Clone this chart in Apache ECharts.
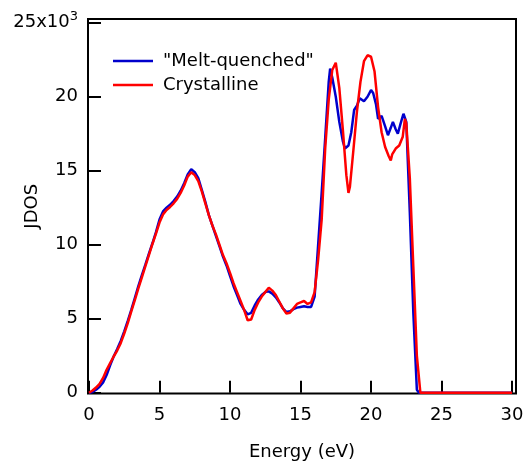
<!DOCTYPE html>
<html>
<head>
<meta charset="utf-8">
<script src="https://cdn.jsdelivr.net/npm/echarts@6/dist/echarts.min.js"></script>
<style>html,body{margin:0;padding:0;background:#fff;}#c{width:531px;height:464px;}</style>
</head>
<body>
<div id="c"></div>
<script>
const xTicks = [0, 5, 10, 15, 20, 25, 30];
const yTicks = [0, 5000, 10000, 15000, 20000, 25000];
const seriesNames = ['"Melt-quenched"', 'Crystalline'];

const energyMelt = [0,0.25,0.5,0.75,1,1.25,1.5,1.75,2,2.25,2.5,2.75,3,3.25,3.5,3.75,4,4.25,4.5,4.75,5,5.25,5.5,5.75,6,6.25,6.5,6.75,7,7.25,7.5,7.75,8,8.25,8.5,8.75,9,9.25,9.5,9.75,10,10.25,10.5,10.75,11,11.25,11.5,11.75,12,12.25,12.5,12.75,13,13.25,13.5,13.75,14,14.25,14.5,14.75,15,15.25,15.5,15.75,16,16.25,16.5,16.75,17,17.1,17.25,17.5,17.75,18,18.15,18.4,18.6,18.8,19,19.2,19.5,19.75,20,20.15,20.35,20.5,20.75,21,21.2,21.4,21.55,21.75,21.9,22.1,22.3,22.5,22.75,23,23.25,23.4,30];
const jdosMelt = [0,50,200,400,700,1200,1850,2450,2950,3500,4150,4850,5600,6400,7200,7950,8650,9400,10100,10850,11700,12250,12500,12700,12950,13250,13650,14150,14750,15100,14900,14500,13700,12900,12000,11300,10600,9900,9200,8600,7900,7200,6600,6000,5600,5300,5400,5900,6300,6600,6800,6850,6700,6450,6100,5700,5450,5500,5650,5750,5800,5850,5800,5800,6500,10000,13500,17200,21000,21900,21300,20000,18300,17000,16500,16700,17600,19100,19400,19900,19700,20000,20450,20250,19500,18500,18700,18000,17400,17900,18300,17800,17500,18200,18850,18300,12200,5400,200,0,0];

const energyCryst = [0,0.25,0.5,0.75,1,1.25,1.5,1.75,2,2.25,2.5,2.75,3,3.25,3.5,3.75,4,4.25,4.5,4.75,5,5.25,5.5,5.75,6,6.25,6.5,6.75,7,7.25,7.5,7.75,8,8.25,8.5,8.75,9,9.25,9.5,9.75,10,10.25,10.5,10.75,11,11.25,11.5,11.75,12,12.25,12.5,12.75,13,13.25,13.5,13.75,14,14.25,14.5,14.75,15,15.25,15.5,15.75,16,16.25,16.5,16.75,17,17.25,17.5,17.75,18,18.25,18.4,18.5,18.75,19,19.25,19.5,19.75,20,20.25,20.5,20.75,21,21.25,21.4,21.5,21.75,22,22.25,22.4,22.5,22.75,23,23.25,23.5,30];
const jdosCryst = [0,150,350,600,1000,1550,2000,2450,2850,3350,4000,4700,5500,6250,7050,7800,8550,9300,10050,10750,11500,12050,12350,12550,12800,13100,13500,14000,14600,14900,14700,14300,13600,12800,12000,11300,10700,10000,9300,8750,8100,7400,6800,6200,5600,4900,4950,5600,6100,6500,6800,7100,6900,6600,6150,5700,5350,5400,5700,6000,6100,6200,6000,6100,6800,9000,11700,16500,19800,21800,22300,20600,17800,14700,13500,13900,16400,19000,21000,22400,22800,22700,21700,19300,17600,16600,16000,15700,16100,16500,16700,17300,18500,18200,14500,8500,2500,0,0];

const FONT = 'DejaVu Sans';
const chart = echarts.init(document.getElementById('c'), null, {renderer: 'canvas'});
chart.setOption({
  animation: false,
  backgroundColor: '#fff',
  grid: {left: 88, right: 15, top: 19, bottom: 70.5, show: true, borderColor: '#000', borderWidth: 2, backgroundColor: 'transparent', outerBoundsMode: 'none', containLabel: false},
  legend: {
    orient: 'vertical', left: 108, top: 47, icon: 'rect', itemWidth: 40, itemHeight: 2.5, itemGap: 6,
    textStyle: {fontFamily: FONT, fontSize: 18, color: '#000', padding: [0,0,0,5]},
    data: seriesNames
  },
  xAxis: {
    type: 'value', min: -0.07, max: 30.28,
    name: 'Energy (eV)', nameLocation: 'middle', nameGap: 50, nameMoveOverlap: false,
    nameTextStyle: {fontFamily: FONT, fontSize: 18, color: '#000'},
    axisLine: {show: false},
    splitLine: {show: false},
    axisTick: {show: true, inside: true, length: 12, customValues: xTicks, lineStyle: {color: '#000', width: 2}},
    axisLabel: {customValues: xTicks, margin: 13, fontFamily: FONT, fontSize: 18, color: '#000'}
  },
  yAxis: {
    type: 'value', min: -50, max: 25250,
    name: 'JDOS', nameLocation: 'middle', nameGap: 47, nameRotate: 90, nameMoveOverlap: false,
    nameTextStyle: {fontFamily: FONT, fontSize: 18, color: '#000'},
    axisLine: {show: false},
    splitLine: {show: false},
    axisTick: {show: true, inside: true, length: 12, customValues: yTicks, lineStyle: {color: '#000', width: 2}},
    axisLabel: {
      customValues: yTicks, margin: 10, fontFamily: FONT, fontSize: 18, color: '#000',
      formatter: function (v) { return v === 25000 ? '{a|25x10}{s|3}' : String(v / 1000); },
      rich: {a: {fontFamily: FONT, fontSize: 18, color: '#000'}, s: {fontFamily: FONT, fontSize: 13, color: '#000', padding: [0,0,12,0]}}
    }
  },
  series: [
    {name: seriesNames[0], type: 'line', symbol: 'none', data: energyMelt.map((e, i) => [e, jdosMelt[i]]), lineStyle: {color: '#0000cc', width: 2.5}, itemStyle: {color: '#0000cc'}},
    {name: seriesNames[1], type: 'line', symbol: 'none', data: energyCryst.map((e, i) => [e, jdosCryst[i]]), lineStyle: {color: '#ff0000', width: 2.5}, itemStyle: {color: '#ff0000'}}
  ]
});
</script>
</body>
</html>
